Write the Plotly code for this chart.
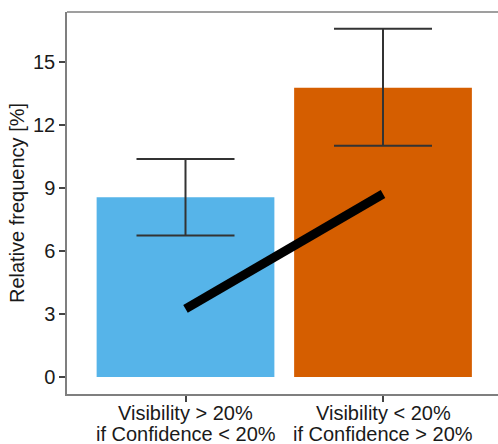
import plotly.graph_objects as go

categories = ["Visibility > 20%<br>if Confidence < 20%", "Visibility < 20%<br>if Confidence > 20%"]
label_line1 = ["Visibility > 20%", "Visibility < 20%"]
label_line2 = ["if Confidence < 20%", "if Confidence > 20%"]
x_pos = [1, 2]
bar_values = [8.55, 13.77]
err_upper = [10.37, 16.57]
err_lower = [6.73, 11.0]
bar_colors = ["#56B4E9", "#D55E00"]
line_values = [3.24, 8.71]
y_ticks = [0, 3, 6, 9, 12, 15]

FONT = "Liberation Sans, Arial, sans-serif"
TXT = "#1a1a1a"
AXIS = "#7f7f7f"

fig = go.Figure()
fig.add_trace(go.Bar(
    x=x_pos, y=bar_values, width=0.9,
    marker=dict(color=bar_colors, line=dict(width=0)),
    error_y=dict(type="data", symmetric=False,
                 array=[u - v for u, v in zip(err_upper, bar_values)],
                 arrayminus=[v - l for l, v in zip(err_lower, bar_values)],
                 color="#333333", thickness=2, width=49),
    showlegend=False,
))
fig.add_trace(go.Scatter(
    x=x_pos, y=line_values, mode="lines",
    line=dict(color="black", width=9),
    showlegend=False,
))

annotations = []
for xp, l1, l2 in zip(x_pos, label_line1, label_line2):
    annotations.append(dict(x=xp, xref="x", y=-0.0497, yref="paper", text=l1,
                            showarrow=False, yanchor="middle", xanchor="center",
                            font=dict(family=FONT, size=20, color=TXT)))
    annotations.append(dict(x=xp, xref="x", y=-0.1047, yref="paper", text=l2,
                            showarrow=False, yanchor="middle", xanchor="center",
                            font=dict(family=FONT, size=20, color=TXT)))

fig.update_layout(
    width=498, height=444,
    margin=dict(l=67, r=0, t=12, b=50),
    paper_bgcolor="white", plot_bgcolor="white",
    font=dict(family=FONT, size=20, color=TXT),
    annotations=annotations,
    shapes=[dict(type="line", xref="paper", yref="paper", x0=0, x1=1, y0=1, y1=1,
                 line=dict(color=AXIS, width=1.5))],
    xaxis=dict(range=[0.4, 0.4 + 431 / 197.5], tickvals=x_pos, ticktext=categories,
               showticklabels=False, ticks="outside", ticklen=6, tickcolor="#444444",
               tickwidth=1.5, showline=True, linecolor=AXIS, linewidth=1.5,
               showgrid=False, zeroline=False),
    yaxis=dict(range=[-0.807, 17.37], tickvals=y_ticks, ticks="outside", ticklen=6,
               tickcolor="#444444", tickwidth=1.5, showline=True, linecolor=AXIS,
               linewidth=1.5, showgrid=False, zeroline=False,
               tickfont=dict(family=FONT, size=20, color=TXT),
               title=dict(text="Relative frequency [%]", standoff=3,
                          font=dict(family=FONT, size=20, color=TXT))),
)

fig.write_html("out.html")
